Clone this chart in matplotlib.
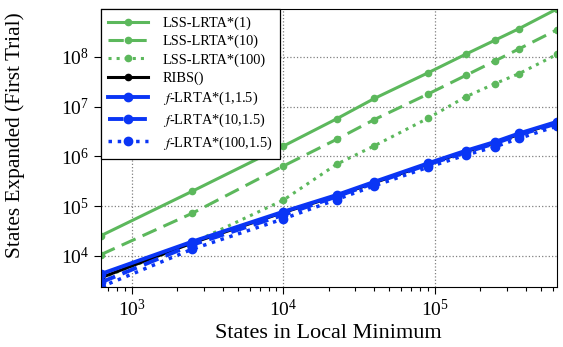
import matplotlib
matplotlib.use("Agg")
import matplotlib.pyplot as plt
from matplotlib.ticker import LogLocator, LogFormatterMathtext, NullLocator

plt.rcParams['font.family'] = ['Liberation Serif', 'DejaVu Serif']
plt.rcParams['mathtext.fontset'] = 'stix'

states = [625, 2500, 10000, 22500, 40000, 90000, 160000, 250000, 360000, 640000]

lss1 = [25200, 197000, 1.6e6, 5.67e6, 1.46e7, 4.76e7, 1.13e8, 2.17e8, 3.7e8, 9.2e8]
lss10 = [10500, 71000, 6.35e5, 2.19e6, 5.5e6, 1.78e7, 4.23e7, 8.3e7, 1.45e8, 3.5e8]
lss100 = [3500, 18000, 1.31e5, 6.9e5, 1.63e6, 5.8e6, 1.57e7, 2.9e7, 4.6e7, 1.12e8]
ribs = [3600, 18000, 74000, 1.6e5, 2.95e5, 6.9e5, 1.24e6, 1.88e6, 2.75e6, 4.8e6]
f1 = [4280, 19100, 76600, 1.66e5, 3.07e5, 7.2e5, 1.29e6, 1.95e6, 2.88e6, 4.93e6]
f10 = [2900, 16500, 66000, 1.55e5, 2.9e5, 6.8e5, 1.2e6, 1.82e6, 2.7e6, 4.57e6]
f100 = [2350, 13500, 55000, 1.35e5, 2.55e5, 6.0e5, 1.06e6, 1.55e6, 2.29e6, 4.05e6]

green = '#5cb85c'
blue = '#0a35f5'

fig = plt.figure(figsize=(5.63, 3.47), dpi=100)
ax = fig.add_axes([0.179, 0.173, 0.810, 0.801])

ax.plot(states, lss1, '-', color=green, lw=2.2, marker='o', ms=4.5, label='LSS-LRTA*(1)')
ax.plot(states, lss10, '--', color=green, lw=2.2, marker='o', ms=4.5, dashes=(5, 2.5), label='LSS-LRTA*(10)')
ax.plot(states, lss100, ':', color=green, lw=2.2, marker='o', ms=4.5, label='LSS-LRTA*(100)')
ax.plot(states, ribs, '-', color='black', lw=2.2, marker='o', ms=4.5, label='RIBS()')
ax.plot(states, f1, '-', color=blue, lw=2.8, marker='o', ms=6, label='$f$-LRTA*(1,1.5)')
ax.plot(states, f10, '--', color=blue, lw=2.8, marker='o', ms=6, dashes=(4, 2), label='$f$-LRTA*(10,1.5)')
ax.plot(states, f100, ':', color=blue, lw=2.5, marker='o', ms=6, label='$f$-LRTA*(100,1.5)')

ax.set_xscale('log')
ax.set_yscale('log')
ax.set_xlim(min(states), max(states))
ax.set_ylim(min(f100), max(lss1))
ax.yaxis.set_major_locator(LogLocator(base=10, numticks=10))
ax.yaxis.set_minor_locator(NullLocator())
ax.xaxis.set_major_formatter(LogFormatterMathtext())
ax.yaxis.set_major_formatter(LogFormatterMathtext())
ax.grid(True, which='major', linestyle=':', color='gray', lw=0.9)

ax.tick_params(axis='both', which='major', labelsize=14, length=5, width=0.8, direction='out')
ax.tick_params(axis='x', which='minor', length=3, width=0.8, direction='out')
ax.set_xlabel('States in Local Minimum', fontsize=16, labelpad=3)
ax.set_ylabel('States Expanded (First Trial)', fontsize=15.3)
ax.yaxis.set_label_coords(-0.167, 0.545)

leg = ax.legend(loc='upper left', fontsize=10.4, fancybox=False, edgecolor='black',
                framealpha=1, borderaxespad=0, handlelength=2.8, handletextpad=1.0,
                labelspacing=0.34, borderpad=0.5)
leg.get_frame().set_linewidth(0.9)

fig.savefig('out.png', dpi=100)
